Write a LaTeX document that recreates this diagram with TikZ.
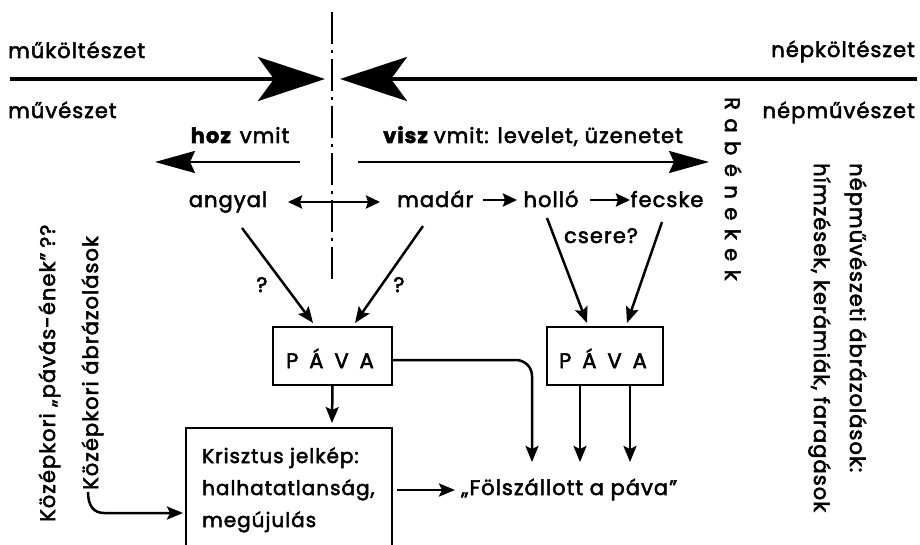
\documentclass[tikz,border=0pt]{standalone}
\usepackage{fontspec}
\setmainfont{Poppins}
\newfontfamily\popf{Poppins}[LetterSpace=5,FakeBold=2.5]
\newcommand\lblfont{\popf\fontsize{21}{25}\selectfont}
\newcommand\krfont{\popf\fontsize{20}{24}\selectfont}
\usetikzlibrary{arrows.meta}
\begin{document}
\begin{tikzpicture}[x=1pt,y=-1pt,
  txt/.style={inner sep=0pt, font=\lblfont},
  krtxt/.style={inner sep=0pt, font=\krfont},
  box/.style={draw, line width=2pt, inner sep=0pt},
  mainarrow/.style={line width=4.5pt, -{Stealth[length=67pt,width=44pt,inset=16pt]}},
  longarrow/.style={line width=2.5pt, -{Stealth[length=40pt,width=22pt,inset=5pt]}},
  arr/.style={line width=2.5pt, -{Stealth[length=16pt,width=13pt,inset=3pt]}},
  smallarr/.style={line width=2.5pt, -{Stealth[length=14pt,width=13pt,inset=2pt]}},
  dblarr/.style={line width=2.5pt, {Stealth[length=14pt,width=13pt,inset=2pt]}-{Stealth[length=14pt,width=13pt,inset=2pt]}},
  axis/.style={line width=2.5pt, dash pattern=on 32pt off 6pt on 3pt off 6pt}
]
\useasboundingbox (0,0) rectangle (920,545);
\clip (0,0) rectangle (920,545);

% central axis and main arrows
\coordinate (vtop) at (332,12);
\coordinate (vbot) at (332,283);
\draw[axis] (vtop) -- (vbot);
\coordinate (ml) at (10,79);
\coordinate (tipL) at (325,79);
\coordinate (mr) at (917,79);
\coordinate (tipR) at (340,79);
\draw[mainarrow] (ml) -- (tipL);
\draw[mainarrow] (mr) -- (tipR);

% labels
\node[txt, anchor=base west] (mk) at (8,58) {műköltészet};
\node[txt, anchor=base east] (nk) at (915,57) {népköltészet};
\node[txt, anchor=base west] (mv) at (8,118) {művészet};
\node[txt, anchor=base east] (nmv) at (915,118) {népművészet};
\node[txt, anchor=base] (hoz) at (240,143) {\textbf{hoz}\hskip8pt vmit};
\node[txt, anchor=base west] (visz) at (383,143) {\textbf{visz}\hskip5pt vmit: levelet, üzenetet};

\coordinate (hozS) at (300,162);
\coordinate (hozE) at (155,162);
\coordinate (viszS) at (358,162);
\coordinate (viszE) at (709,162);
\draw[longarrow] (hozS) -- (hozE);
\draw[longarrow] (viszS) -- (viszE);

\node[txt, anchor=base] (angyal) at (228,207) {angyal};
\node[txt, anchor=base west] (madar) at (397,207) {madár};
\node[txt, anchor=base] (hollo) at (551,207) {holló};
\node[txt, anchor=base] (fecske) at (667,207) {fecske};
\node[txt, anchor=base] (csere) at (601,243) {csere?};
\node[txt, anchor=base] (q1) at (262,292) {?};
\node[txt, anchor=base] (q2) at (399,292) {?};

\draw[dblarr] ([shift={(60pt,5pt)}]angyal.base) -- ([shift={(-17pt,5pt)}]madar.base west);
\draw[smallarr] ([shift={(86pt,7pt)}]madar.base west) -- ([shift={(-34pt,7pt)}]hollo.base);
\draw[smallarr] ([shift={(39pt,7pt)}]hollo.base) -- ([shift={(-37pt,7pt)}]fecske.base);

% PAVA boxes
\node[box, minimum width=119pt, minimum height=58pt] (pava1) at (332.5,356) {};
\node[txt, anchor=base] (pava1t) at (330,368) {P\hskip11pt Á\hskip11pt V\hskip11pt A};
\node[box, minimum width=116pt, minimum height=58pt] (pava2) at (605,356) {};
\node[txt, anchor=base] (pava2t) at (603,368) {P\hskip11pt Á\hskip11pt V\hskip11pt A};

\draw[arr] ([shift={(14pt,-21pt)}]angyal.base) -- ([shift={(-19.5pt,3pt)}]pava1.north);
\draw[arr] ([shift={(26pt,-19pt)}]madar.base west) -- ([shift={(22.5pt,3pt)}]pava1.north);
\draw[arr] ([shift={(-4pt,-11pt)}]hollo.base) -- ([shift={(-18pt,3pt)}]pava2.north);
\draw[arr] ([shift={(-5pt,-15pt)}]fecske.base) -- ([shift={(22pt,3pt)}]pava2.north);

% Krisztus box
\node[box, anchor=north west, minimum width=206pt, minimum height=150pt] (kr) at (185,427) {};
\node[krtxt, anchor=base west] (kr1) at (202,463) {Krisztus jelkép:};
\node[krtxt, anchor=base west] (kr2) at (202,495) {halhatatlanság,};
\node[krtxt, anchor=base west] (kr3) at (202,527) {megújulás};

\node[txt, anchor=base west] (fol) at (461,495) {„Fölszállott a páva”};

\draw[arr] (pava1.south) -- ([shift={(147pt,4pt)}]kr.north west);
\draw[arr, rounded corners=16pt] ([yshift=-4pt]pava1.east) -| ([shift={(71pt,33pt)}]fol.base west);
\draw[arr] ([xshift=-25pt]pava2.south) -- ([shift={(119pt,33pt)}]fol.base west);
\draw[arr] ([xshift=25pt]pava2.south) -- ([shift={(169pt,33pt)}]fol.base west);
\draw[arr] ([shift={(4pt,-63pt)}]kr.north east) -- ([shift={(-6pt,5pt)}]fol.base west);

% vertical texts
\node[txt, rotate=90, anchor=base west] (col1) at (55,522) {Középkori „pávás-ének”\hskip5pt??};
\node[txt, rotate=90, anchor=base west] (col2) at (98,490) {Középkori ábrázolások};
\draw[arr] ([shift={(-10pt,-2pt)}]col2.base west) .. controls +(0pt,-14pt) and +(-10pt,0pt) .. ++(16pt,-21pt) -- ([shift={(-2pt,-86pt)}]kr.north west);

\node[txt, rotate=-90, anchor=base west] (rab) at (725,97) {R\hskip8.5pt a\hskip8.5pt b\hskip8.5pt é\hskip8.5pt n\hskip8.5pt e\hskip8.5pt k\hskip8.5pt e\hskip8.5pt k};
\node[txt, rotate=-90, anchor=base west] (r1) at (850,163) {népművészeti ábrázolások:};
\node[txt, rotate=-90, anchor=base west] (r2) at (814,163) {hímzések, kerámiák, faragások};
\end{tikzpicture}
\end{document}
